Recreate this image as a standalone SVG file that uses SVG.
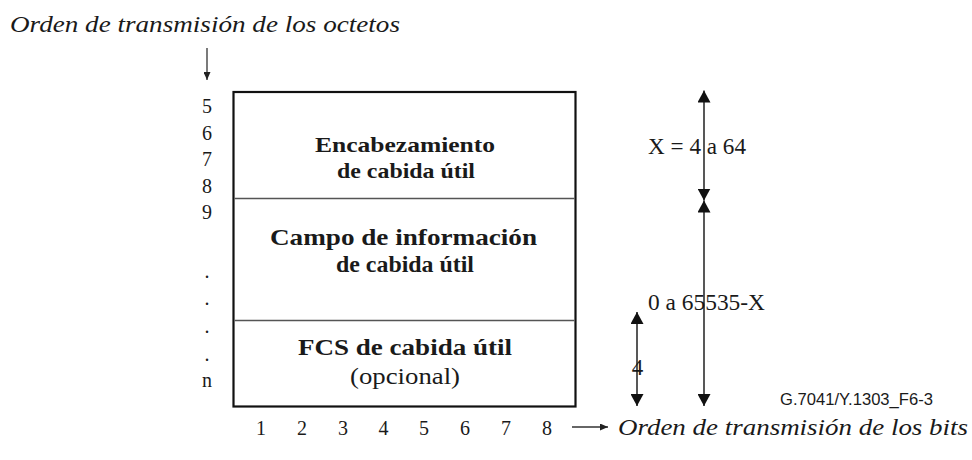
<svg xmlns="http://www.w3.org/2000/svg" width="972" height="460" viewBox="0 0 972 460">
<style>
text{fill:#1a1a1a}
.it{font-style:italic;font-size:24px}
.num{font-size:20px;text-anchor:middle}
.bold{font-weight:bold;font-size:24px;text-anchor:middle}
.hb{font-weight:bold;font-size:22px;text-anchor:middle}
.reg{font-size:24px;text-anchor:middle}
.lbl{font-size:23px}
.ref{font-size:17px}
.dim{stroke:#111;stroke-width:1.4;fill:none}
.sm{stroke:#333;stroke-width:1.3;fill:none}
</style>
<defs>
<marker id="big" markerUnits="userSpaceOnUse" markerWidth="12" markerHeight="13" refX="12" refY="6.5" orient="auto-start-reverse" viewBox="0 0 12 13">
<path d="M0,0 L12,6.5 L0,13 z" fill="#111"/>
</marker>
<marker id="small" markerUnits="userSpaceOnUse" markerWidth="8" markerHeight="7" refX="8" refY="3.5" orient="auto" viewBox="0 0 8 7">
<path d="M0,0 L8,3.5 L0,7 z" fill="#222"/>
</marker>
</defs>
<rect width="972" height="460" fill="#fff"/>
<g font-family="Liberation Serif, Times New Roman, Tinos, serif">

<text class="it" x="10" y="32" textLength="390" lengthAdjust="spacingAndGlyphs">Orden de transmisión de los octetos</text>

<g id="octet-numbers">
<text class="num" x="207" y="113">5</text>
<text class="num" x="207" y="139.5">6</text>
<text class="num" x="207" y="166">7</text>
<text class="num" x="207" y="192.5">8</text>
<text class="num" x="207" y="219">9</text>
<text class="num" x="207" y="278">.</text>
<text class="num" x="207" y="305">.</text>
<text class="num" x="207" y="333">.</text>
<text class="num" x="207" y="361">.</text>
<text class="num" x="207" y="387">n</text>
</g>

<g id="frame">
<rect x="233.5" y="92" width="342" height="314.5" fill="none" stroke="#111" stroke-width="2.2"/>
</g>

<g id="node-header">
<line x1="234.5" y1="198.5" x2="574.5" y2="198.5" stroke="#555" stroke-width="1.6"/>
<text class="hb" x="405" y="152" textLength="180" lengthAdjust="spacingAndGlyphs">Encabezamiento</text>
<text class="hb" x="406" y="178" textLength="138" lengthAdjust="spacingAndGlyphs">de cabida útil</text>
</g>

<g id="node-info">
<line x1="234.5" y1="320.5" x2="574.5" y2="320.5" stroke="#555" stroke-width="1.6"/>
<text class="bold" x="403.5" y="245" textLength="267" lengthAdjust="spacingAndGlyphs">Campo de información</text>
<text class="bold" x="405" y="272" textLength="138" lengthAdjust="spacingAndGlyphs">de cabida útil</text>
</g>

<g id="node-fcs">
<text class="bold" x="405" y="355" textLength="214" lengthAdjust="spacingAndGlyphs">FCS de cabida útil</text>
<text class="reg" x="405" y="384" textLength="110" lengthAdjust="spacingAndGlyphs">(opcional)</text>
</g>

<g id="bit-numbers">
<text class="num" x="261" y="435">1</text>
<text class="num" x="302" y="435">2</text>
<text class="num" x="343" y="435">3</text>
<text class="num" x="383.5" y="435">4</text>
<text class="num" x="424" y="435">5</text>
<text class="num" x="465" y="435">6</text>
<text class="num" x="506" y="435">7</text>
<text class="num" x="547" y="435">8</text>
</g>

<text class="it" x="618" y="435" textLength="350" lengthAdjust="spacingAndGlyphs">Orden de transmisión de los bits</text>

<g id="labels">
<text class="lbl" x="648" y="154" textLength="98" lengthAdjust="spacingAndGlyphs">X = 4 a 64</text>
<text class="lbl" x="648" y="310" textLength="117" lengthAdjust="spacingAndGlyphs">0 a 65535-X</text>
<text class="lbl" x="637.5" y="375" text-anchor="middle">4</text>
<text class="ref" x="780" y="405" textLength="153" lengthAdjust="spacingAndGlyphs" font-family="Liberation Sans, Arial, sans-serif">G.7041/Y.1303_F6-3</text>
</g>
</g>

<g id="connectors">
<line class="sm" x1="207" y1="48" x2="207" y2="80" marker-end="url(#small)"/>
<line class="sm" x1="572" y1="427" x2="608" y2="427" marker-end="url(#small)"/>
<line class="dim" x1="704" y1="90.5" x2="704" y2="200.5" marker-start="url(#big)" marker-end="url(#big)"/>
<line class="dim" x1="704" y1="200.5" x2="704" y2="406" marker-start="url(#big)" marker-end="url(#big)"/>
<line class="dim" x1="637" y1="312" x2="637" y2="406" marker-start="url(#big)" marker-end="url(#big)"/>
</g>
</svg>
